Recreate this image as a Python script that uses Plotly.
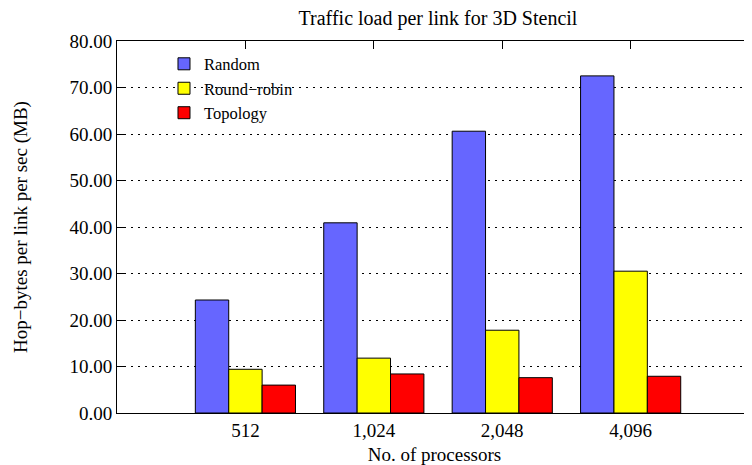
import plotly.graph_objects as go

categories = ["512", "1,024", "2,048", "4,096"]
series_names = ["Random", "Round\u2212robin", "Topology"]
random_vals = [24.3, 40.9, 60.6, 72.5]
roundrobin_vals = [9.4, 11.8, 17.8, 30.5]
topology_vals = [6.0, 8.4, 7.6, 7.9]
colors = ["#6666ff", "#ffff00", "#ff0000"]
y_ticks = [0, 10, 20, 30, 40, 50, 60, 70, 80]

FONT = "Liberation Serif, Times New Roman, DejaVu Serif, serif"
OFF = 8  # page body margin offset compensation
W, H = 752 - OFF, 465 - OFF

fig = go.Figure()
for name, vals, col in zip(series_names, [random_vals, roundrobin_vals, topology_vals], colors):
    fig.add_trace(go.Bar(
        x=categories, y=vals, name=name,
        marker=dict(color=col, line=dict(color="black", width=1)),
    ))

fig.update_layout(
    width=W, height=H,
    margin=dict(l=117 - OFF, r=0, t=41 - OFF, b=52, autoexpand=False),
    paper_bgcolor="white", plot_bgcolor="white",
    barmode="group", bargap=0.22, bargroupgap=0,
    font=dict(family=FONT, size=19, color="black"),
    title=dict(text="Traffic load per link for 3D Stencil", x=0.5055, xref="paper",
               xanchor="center", y=1 - (18 - OFF) / H, yref="container", yanchor="middle",
               font=dict(family=FONT, size=20, color="black")),
    legend=dict(x=0.074, y=0.985, xanchor="left", yanchor="top",
                bgcolor="rgba(0,0,0,0)", font=dict(family=FONT, size=16.5),
                traceorder="normal"),
    showlegend=True,
)
fig.update_xaxes(
    type="category", range=[-1, 3.945],
    showline=True, linecolor="black", linewidth=1, mirror="allticks",
    ticks="inside", ticklen=8, tickcolor="black", showgrid=False,
    layer="below traces",
    title=dict(text="No. of processors", font=dict(family=FONT, size=19), standoff=9),
    tickfont=dict(family=FONT, size=19),
)
fig.update_yaxes(
    range=[0, 80], tickvals=y_ticks, tickformat=".2f",
    showline=True, linecolor="black", linewidth=1, mirror=False,
    ticks="inside", ticklen=8, tickcolor="black",
    showgrid=True, gridcolor="black", gridwidth=1, griddash="2px,5px",
    zeroline=False, layer="below traces",
    title=dict(text="Hop\u2212bytes per link per sec (MB)", font=dict(family=FONT, size=19),
               standoff=36),
    tickfont=dict(family=FONT, size=19),
)

fig.write_html("out.html")
